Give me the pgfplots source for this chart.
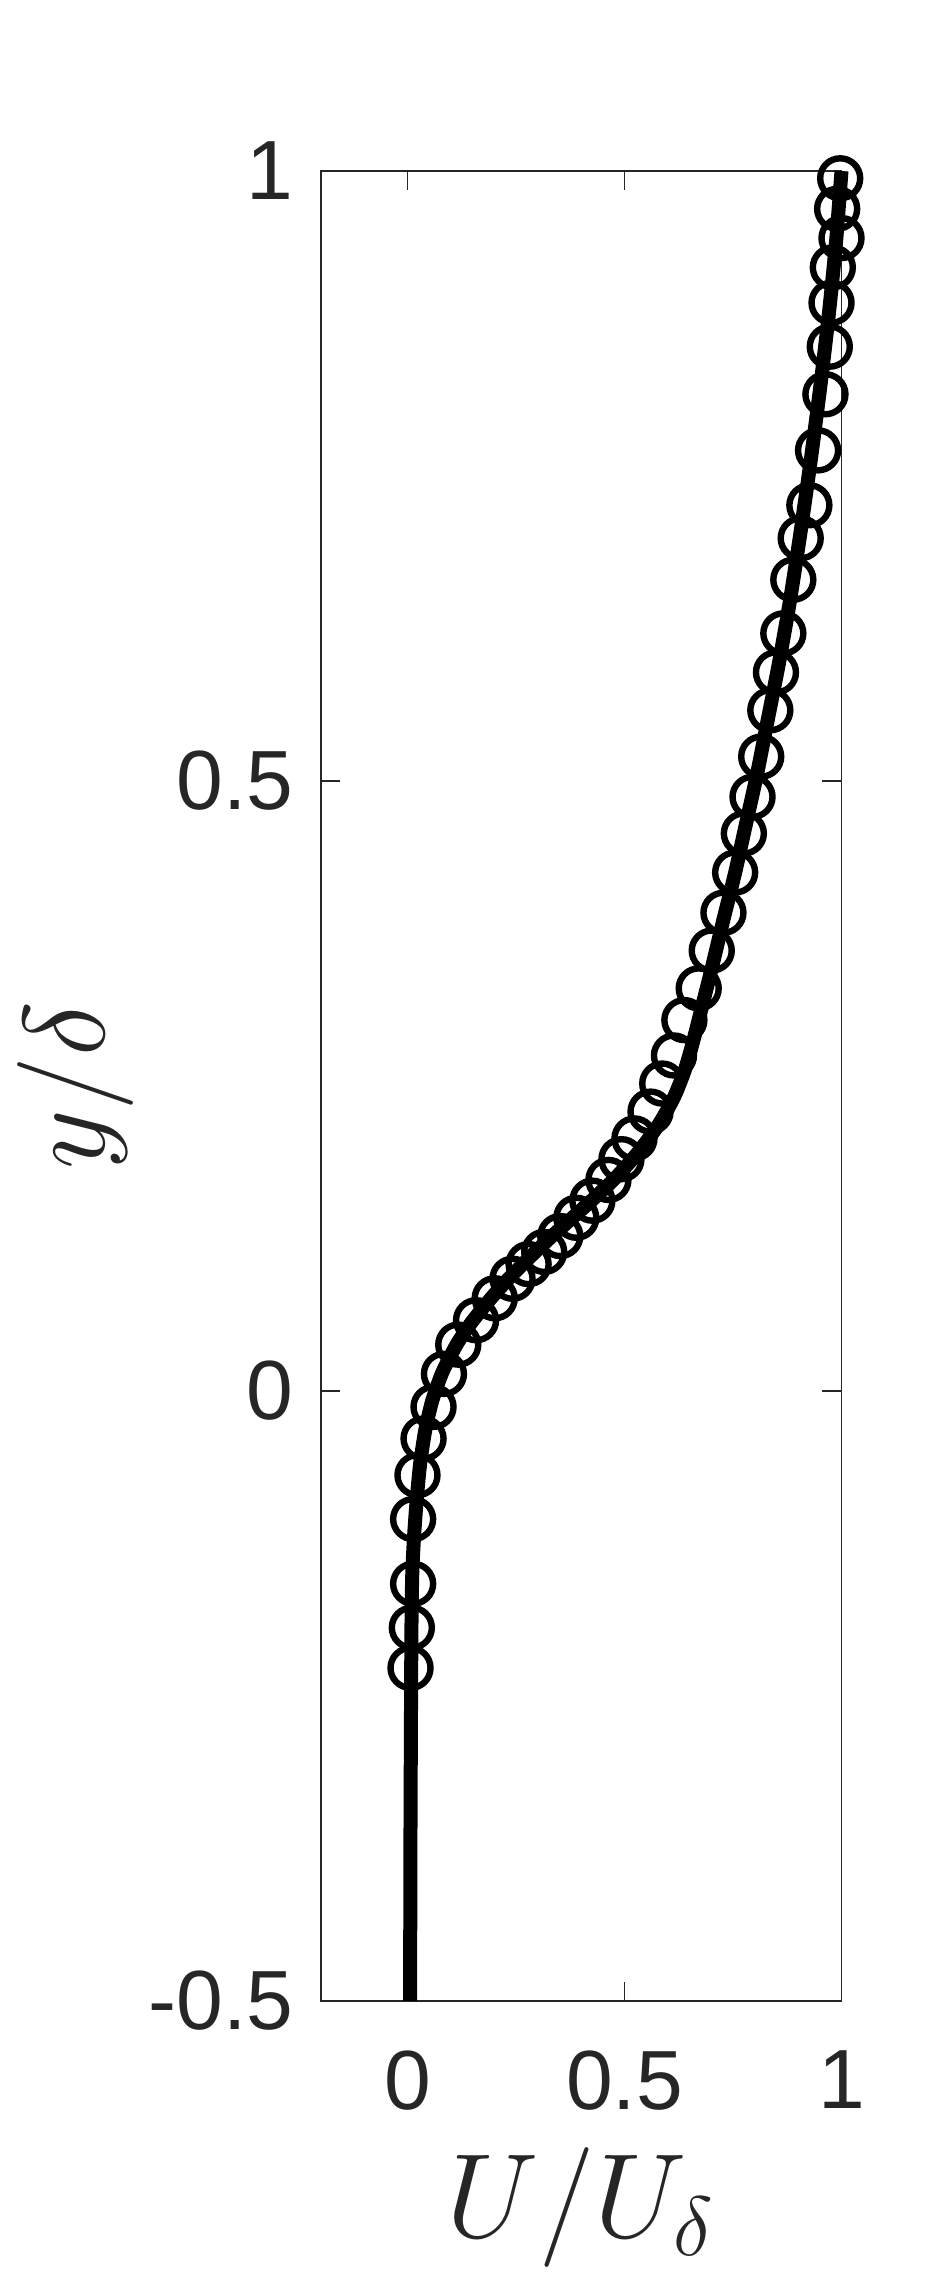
\RequirePackage{fix-cm}
\documentclass[border=0pt]{standalone}
\usepackage{fontspec}
\setmainfont{Liberation Sans}
\usepackage{pgfplots}
\pgfplotsset{compat=1.18}
\definecolor{axgray}{rgb}{0.15,0.15,0.15}

\begin{document}
\begin{tikzpicture}
\begin{axis}[
    name=ax, scale only axis,
    width=130.2pt, height=457.5pt,
    xmin=-0.2, xmax=1, ymin=-0.5, ymax=1,
    xtick={0,0.5,1}, ytick={-0.5,0,0.5,1},
    xticklabels={0,0.5,1}, yticklabels={-0.5,0,0.5,1},
    tick align=inside, major tick length=4.75pt,
    axis line style={axgray, line width=0.45pt},
    every tick/.style={axgray, line width=0.45pt},
    ticklabel style={font=\fontsize{21}{25}\selectfont, text=axgray},
    xticklabel style={inner sep=0pt, anchor=north, yshift=-12.25pt},
    yticklabel style={inner sep=0pt, anchor=east, xshift=-6.7pt},
    xlabel={$U/U_\delta$}, ylabel={$y/\delta$},
    xlabel style={font=\fontsize{30}{36}\selectfont, text=axgray, inner sep=0pt,
        anchor=base, at={(axis description cs:0.5,-0.129)}},
    ylabel style={font=\fontsize{29}{35}\selectfont, text=axgray, inner sep=0pt,
        anchor=south, at={(axis description cs:-0.358,0.5)}},
    clip=false,
    ]
% measured points
\addplot[only marks, mark=o, mark size=5pt, mark options={black, line width=1.6pt}] coordinates {
    (0.997,0.994) (0.990,0.969) (1.000,0.945) (0.980,0.921) (0.977,0.892)
    (0.973,0.856) (0.963,0.817) (0.946,0.771) (0.926,0.726) (0.906,0.699)
    (0.889,0.665) (0.866,0.621) (0.849,0.589) (0.836,0.558) (0.815,0.520)
    (0.795,0.487) (0.775,0.457) (0.755,0.425) (0.728,0.392) (0.701,0.361)
    (0.671,0.330) (0.638,0.304) (0.614,0.275) (0.587,0.252) (0.560,0.229)
    (0.523,0.207) (0.493,0.190) (0.463,0.173) (0.426,0.156) (0.389,0.142)
    (0.352,0.127) (0.315,0.114) (0.279,0.104) (0.242,0.092) (0.201,0.076)
    (0.158,0.058) (0.117,0.038) (0.084,0.014) (0.060,-0.013) (0.037,-0.039)
    (0.023,-0.069) (0.013,-0.105) (0.013,-0.158) (0.010,-0.194) (0.007,-0.227)
};
% model profile
\addplot[black, line width=3.5pt, smooth, tension=0.4] coordinates {
    (0.006,-0.5) (0.007,-0.35) (0.009,-0.2) (0.011,-0.15) (0.015,-0.12)
    (0.021,-0.09) (0.029,-0.06) (0.041,-0.032) (0.057,-0.008) (0.080,0.015)
    (0.113,0.038) (0.147,0.056) (0.190,0.075) (0.230,0.091) (0.280,0.109)
    (0.330,0.126) (0.380,0.142) (0.430,0.158) (0.480,0.175) (0.530,0.195)
    (0.578,0.218) (0.613,0.240) (0.638,0.262) (0.657,0.285) (0.675,0.310)
    (0.700,0.345) (0.727,0.385) (0.755,0.425) (0.780,0.465) (0.805,0.505)
    (0.830,0.550) (0.855,0.595) (0.880,0.645) (0.904,0.700) (0.928,0.760)
    (0.950,0.820) (0.970,0.880) (0.987,0.940) (1.000,1.000)
};
\end{axis}
\pgfresetboundingbox
\path[use as bounding box] ([shift={(-80.175pt,-69.75pt)}]ax.south west) rectangle ++(232.5pt,570pt);
\end{tikzpicture}
\end{document}
